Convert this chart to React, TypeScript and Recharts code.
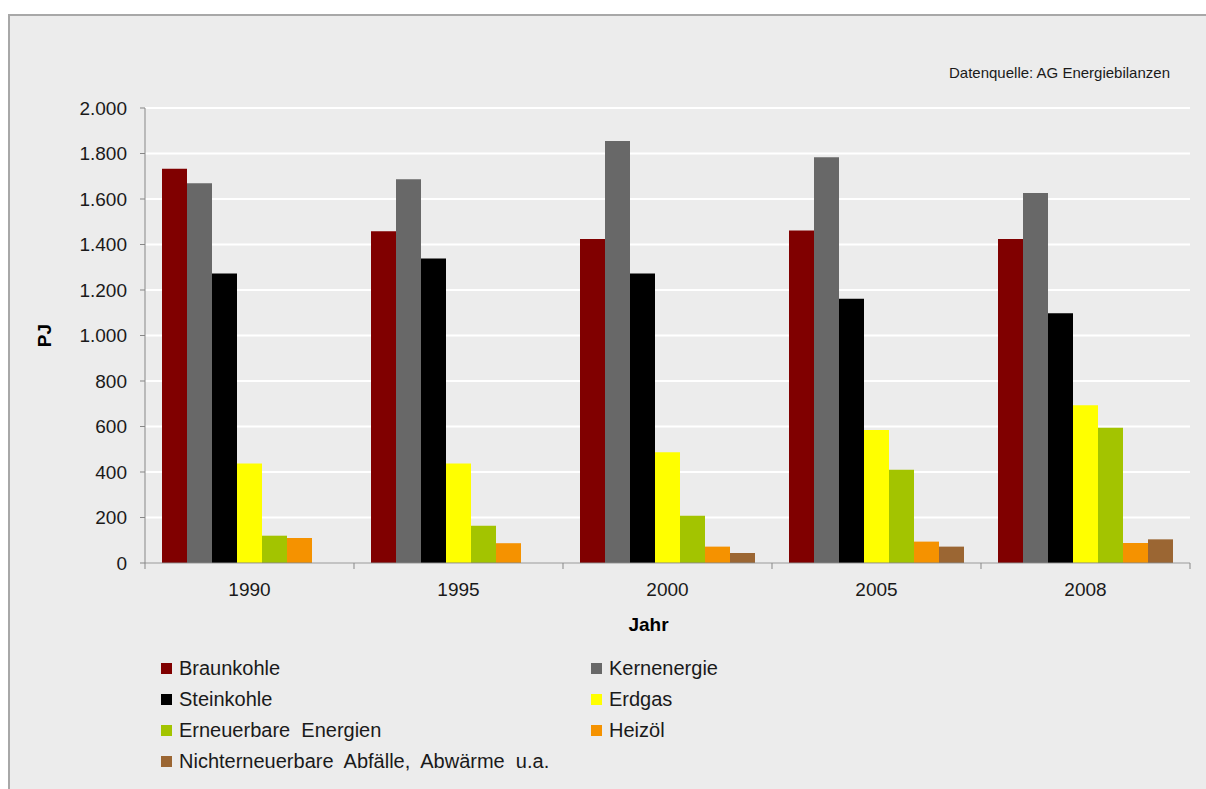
import React from "react";
import { BarChart, Bar, XAxis, YAxis, CartesianGrid, Legend, Label } from "recharts";

const years = ["1990", "1995", "2000", "2005", "2008"];

const braunkohle = [1733, 1458, 1424, 1462, 1424];
const kernenergie = [1669, 1687, 1855, 1783, 1626];
const steinkohle = [1272, 1338, 1272, 1162, 1098];
const erdgas = [437, 437, 487, 585, 693];
const erneuerbare = [120, 164, 208, 410, 595];
const heizoel = [110, 87, 72, 94, 88];
const nichterneuerbare = [0, 0, 44, 72, 104];

const yTicks = [0, 200, 400, 600, 800, 1000, 1200, 1400, 1600, 1800, 2000];

const series = [
  { key: "braunkohle", name: "Braunkohle", color: "#800000", values: braunkohle },
  { key: "kernenergie", name: "Kernenergie", color: "#686868", values: kernenergie },
  { key: "steinkohle", name: "Steinkohle", color: "#000000", values: steinkohle },
  { key: "erdgas", name: "Erdgas", color: "#ffff00", values: erdgas },
  { key: "erneuerbare", name: "Erneuerbare  Energien", color: "#a3c400", values: erneuerbare },
  { key: "heizoel", name: "Heizöl", color: "#f59200", values: heizoel },
  { key: "nicht", name: "Nichterneuerbare  Abfälle,  Abwärme  u.a.", color: "#9b6633", values: nichterneuerbare },
];

const data = years.map((y, i) => {
  const row: Record<string, string | number> = { year: y };
  series.forEach((s) => (row[s.key] = s.values[i]));
  return row;
});

const FONT = "'Liberation Sans', Arial, sans-serif";
const AXIS = "#878787";

const fmt = (v: number) => v.toLocaleString("de-DE");

function YearTick(props: any) {
  const { x, y, payload, width, visibleTicksCount, index } = props;
  const half = width / visibleTicksCount / 2;
  const top = y - 6;
  return (
    <g>
      {index === 0 && <line x1={x - half} x2={x - half} y1={top} y2={top + 6} stroke={AXIS} />}
      <line x1={x + half} x2={x + half} y1={top} y2={top + 6} stroke={AXIS} />
      <text x={x} y={y + 27} textAnchor="middle" fontSize={19} fill="#1a1a1a" fontFamily={FONT}>
        {payload.value}
      </text>
    </g>
  );
}

function LegendBox() {
  return (
    <div
      style={{
        display: "grid",
        gridTemplateColumns: "430px 300px",
        rowGap: 8,
        fontFamily: FONT,
        fontSize: 20,
        color: "#1a1a1a",
      }}
    >
      {series.map((s) => (
        <div key={s.key} style={{ display: "flex", alignItems: "center", height: 23, whiteSpace: "pre" }}>
          <span style={{ width: 11, height: 11, background: s.color, marginRight: 7, display: "inline-block" }} />
          {s.name}
        </div>
      ))}
    </div>
  );
}

export default function App() {
  return (
    <div style={{ position: "fixed", left: 0, top: 0, width: 1206, height: 789, overflow: "hidden" }}>
      <div
        style={{
          position: "absolute",
          left: 8,
          top: 14,
          width: 1220,
          height: 800,
          background: "#ececec",
          borderTop: "2px solid #a8a8a8",
          borderLeft: "2px solid #a8a8a8",
          boxSizing: "border-box",
        }}
      />
      <div
        style={{
          position: "absolute",
          right: 36,
          top: 64,
          fontFamily: FONT,
          fontSize: 15,
          color: "#1a1a1a",
        }}
      >
        Datenquelle: AG Energiebilanzen
      </div>
      <div style={{ position: "absolute", left: 0, top: 0 }}>
        <BarChart
          width={1206}
          height={789}
          data={data}
          margin={{ top: 108, right: 16, bottom: 151, left: 0 }}
          barGap={0}
          barCategoryGap={17}
        >
          <CartesianGrid vertical={false} stroke="#ffffff" strokeWidth={2} />
          <XAxis
            dataKey="year"
            height={75}
            stroke={AXIS}
            tickLine={false}
            tickSize={6}
            tickMargin={0}
            tick={<YearTick />}
          >
            <Label
              content={({ viewBox }: any) => (
                <text
                  x={viewBox.x + viewBox.width / 2 - 19}
                  y={viewBox.y + 68}
                  textAnchor="middle"
                  fontFamily={FONT}
                  fontSize={19}
                  fontWeight={700}
                  fill="#000"
                >
                  Jahr
                </text>
              )}
            />
          </XAxis>
          <YAxis
            width={145}
            domain={[0, 2000]}
            ticks={yTicks}
            interval={0}
            stroke={AXIS}
            tickSize={5}
            tickMargin={13}
            tickFormatter={fmt}
            tick={{ fontSize: 19, fill: "#1a1a1a", fontFamily: FONT }}
          >
            <Label
              value="PJ"
              angle={-90}
              position="insideLeft"
              offset={44}
              style={{ fontFamily: FONT, fontSize: 19, fontWeight: 700, fill: "#000", textAnchor: "middle" }}
            />
          </YAxis>
          <Legend
            layout="vertical"
            align="center"
            verticalAlign="middle"
            wrapperStyle={{ position: "absolute", left: 161, top: 657, width: 760 }}
            content={() => <LegendBox />}
          />
          {series.map((s) => (
            <Bar key={s.key} dataKey={s.key} name={s.name} fill={s.color} isAnimationActive={false} />
          ))}
        </BarChart>
      </div>
    </div>
  );
}
